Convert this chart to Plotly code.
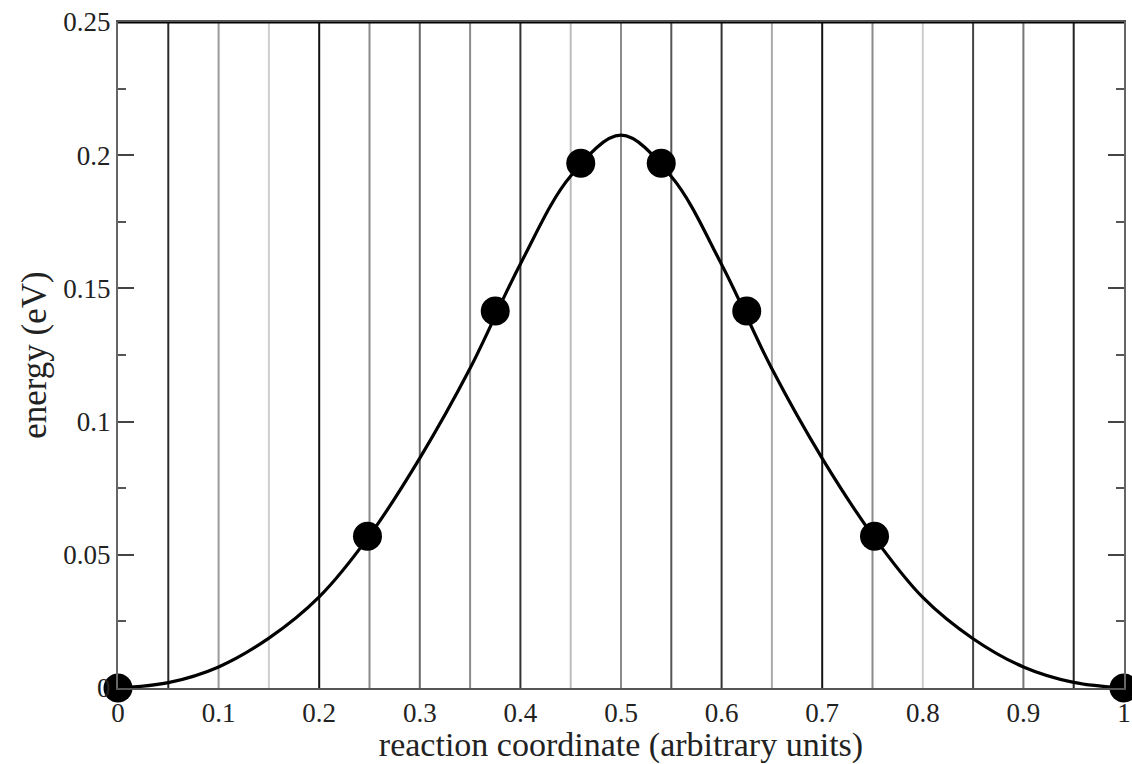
import plotly.graph_objects as go

# Interpolated energy profile along the path
path_x = [0.0, 0.05, 0.10, 0.15, 0.20, 0.25, 0.30, 0.35, 0.40, 0.45, 0.50,
          0.55, 0.60, 0.65, 0.70, 0.75, 0.80, 0.85, 0.90, 0.95, 1.0]
path_e = [0.0, 0.0020, 0.0079, 0.0187, 0.0342, 0.0572, 0.0863, 0.1200, 0.1592, 0.1922, 0.2075,
          0.1920, 0.1590, 0.1198, 0.0862, 0.0574, 0.0340, 0.0185, 0.0079, 0.0021, 0.0]

# Computed images along the reaction coordinate
image_x = [0.0, 0.248, 0.375, 0.460, 0.540, 0.625, 0.752, 1.0]
image_e = [0.0, 0.057, 0.1415, 0.197, 0.197, 0.1415, 0.057, 0.0]

# Vertical guide lines and their shades
guide_x = [0.05, 0.10, 0.15, 0.20, 0.25, 0.30, 0.35, 0.40, 0.45, 0.50,
           0.55, 0.60, 0.65, 0.70, 0.75, 0.80, 0.85, 0.90, 0.95]
guide_color = ["#2a2a2a", "#9a9a9a", "#cfcfcf", "#111111", "#8a8a8a", "#6a6a6a", "#8a8a8a",
               "#333333", "#bdbdbd", "#8a8a8a", "#555555", "#333333", "#aaaaaa", "#151515",
               "#8a8a8a", "#cccccc", "#444444", "#777777", "#222222"]

x_ticks = [0, 0.1, 0.2, 0.3, 0.4, 0.5, 0.6, 0.7, 0.8, 0.9, 1.0]
x_labels = ["0", "0.1", "0.2", "0.3", "0.4", "0.5", "0.6", "0.7", "0.8", "0.9", "1"]
y_ticks = [0, 0.05, 0.10, 0.15, 0.20, 0.25]
y_labels = ["0", "0.05", "0.1", "0.15", "0.2", "0.25"]

serif = "Liberation Serif"

fig = go.Figure()

for gx, gc in zip(guide_x, guide_color):
    fig.add_shape(type="line", xref="x", yref="y", x0=gx, x1=gx, y0=0, y1=0.25,
                  line=dict(color=gc, width=2), layer="below")

fig.add_trace(go.Scatter(
    x=path_x, y=path_e, mode="lines",
    line=dict(color="black", width=3.2, shape="spline", smoothing=1.0),
    hoverinfo="skip", showlegend=False,
))

fig.add_trace(go.Scatter(
    x=image_x, y=image_e, mode="markers",
    marker=dict(color="black", size=29, symbol="circle"),
    cliponaxis=False, showlegend=False,
))

# heavier top frame edge
fig.add_shape(type="line", xref="x", yref="y", x0=0, x1=1, y0=0.25, y1=0.25,
              line=dict(color="black", width=3), layer="above")

fig.update_layout(
    width=1132, height=764,
    margin=dict(l=118, r=8, t=22, b=76, autoexpand=False),
    paper_bgcolor="white", plot_bgcolor="white",
    font=dict(family=serif, color="#1a1a1a"),
    xaxis=dict(
        range=[0, 1], tickvals=x_ticks, ticktext=x_labels, automargin=False,
        showgrid=False, zeroline=False,
        showline=True, linecolor="#555555", linewidth=2, mirror=True,
        ticks="", tickfont=dict(family=serif, size=27, color="#222222"),
        ticklabelstandoff=0,
        title=dict(text="reaction coordinate (arbitrary units)",
                   font=dict(family=serif, size=34, color="#222222"), standoff=0),
    ),
    yaxis=dict(
        range=[0, 0.25], tickvals=y_ticks, ticktext=y_labels, automargin=False,
        showgrid=False, zeroline=False,
        showline=True, linecolor="#666666", linewidth=2, mirror="ticks",
        ticks="inside", ticklen=16, tickwidth=2, tickcolor="#444444",
        minor=dict(dtick=0.025, ticks="inside", ticklen=8, tickwidth=2, tickcolor="#555555"),
        tickfont=dict(family=serif, size=27, color="#222222"),
        title=dict(text="energy (eV)",
                   font=dict(family=serif, size=35, color="#222222"), standoff=6),
    ),
)

fig.write_html("out.html")
